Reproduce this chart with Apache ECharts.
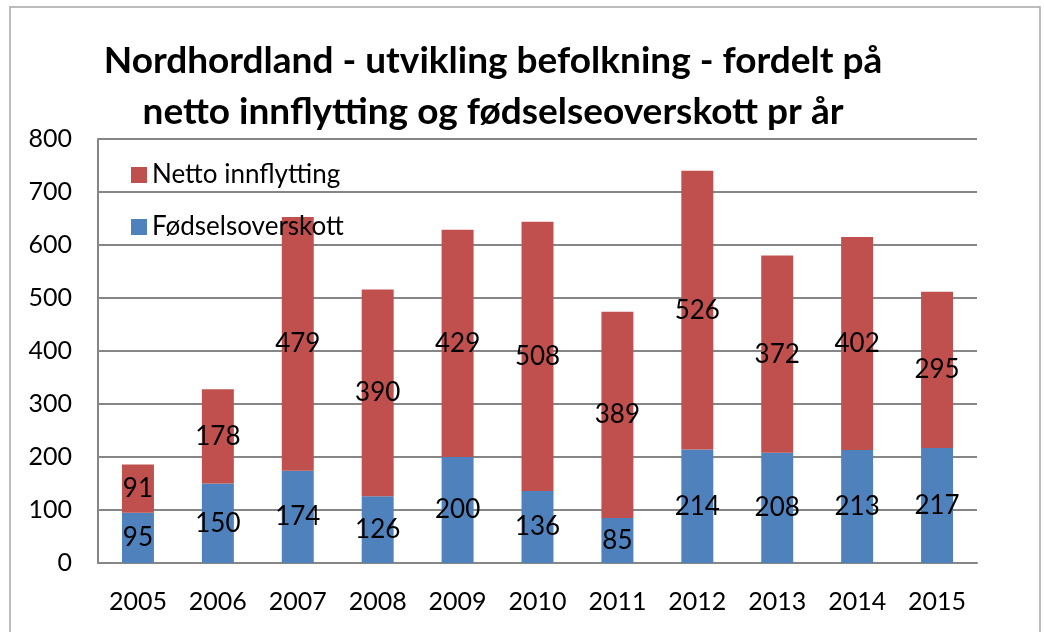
<!DOCTYPE html>
<html lang="nb">
<head>
    <meta charset="UTF-8">
    <title>Nordhordland befolkning</title>
    <script src="https://cdn.jsdelivr.net/npm/echarts@6/dist/echarts.min.js"></script>
    <style>
        *{
            padding:0;
            margin:0;
        }
        html,body{
            height:100%;
            background:#fff;
        }
        #main{
            width:1044px;
            height:632px;
        }
    </style>
</head>
<body>
<div id="main"></div>
<script>
    // data
    var years = ['2005','2006','2007','2008','2009','2010','2011','2012','2013','2014','2015'];
    var fodsel = [95,150,174,126,200,136,85,214,208,213,217];
    var innflytting = [91,178,479,390,429,508,389,526,372,402,295];
    var yTicks = {min:0, max:800, interval:100};

    var font = 'Lato, "Open Sans", sans-serif';
    var myChart = echarts.init(document.getElementById('main'));

    var option = {
        backgroundColor:'#fff',
        textStyle:{fontFamily:font},
        title:{
            text:'Nordhordland - utvikling befolkning - fordelt på\nnetto innflytting og fødselseoverskott pr år',
            left:488,
            textAlign:'center',
            top:31,
            textStyle:{
                fontFamily:font,
                fontSize:37,
                fontWeight:'bold',
                color:'#000',
                lineHeight:51
            }
        },
        graphic:[{
            type:'rect',
            shape:{x:10, y:7, width:1030, height:640},
            style:{fill:'none', stroke:'#a6a6a6', lineWidth:1.5},
            silent:true
        }],
        legend:{
            data:['Netto innflytting','Fødselsoverskott'],
            orient:'vertical',
            left:126,
            top:157,
            itemGap:26,
            itemWidth:16,
            itemHeight:16,
            icon:'rect',
            textStyle:{fontFamily:font, fontSize:26, color:'#000'}
        },
        grid:{
            left:98,
            right:67,
            top:139,
            bottom:69
        },
        xAxis:{
            type:'category',
            data:years,
            axisTick:{show:false},
            axisLine:{lineStyle:{color:'#868686', width:2}},
            axisLabel:{fontFamily:font, fontSize:25, color:'#000', margin:26}
        },
        yAxis:{
            type:'value',
            min:yTicks.min,
            max:yTicks.max,
            interval:yTicks.interval,
            axisLine:{show:true, lineStyle:{color:'#868686', width:2}},
            axisTick:{show:false},
            splitLine:{lineStyle:{color:'#868686', width:2}},
            axisLabel:{fontFamily:font, fontSize:25, color:'#000', margin:26}
        },
        series:[
            {
                name:'Fødselsoverskott',
                type:'bar',
                stack:'tot',
                barWidth:'40%',
                itemStyle:{color:'#4f81bd'},
                label:{show:true, position:'inside', fontFamily:font, fontSize:26, color:'#000'},
                data:fodsel
            },
            {
                name:'Netto innflytting',
                type:'bar',
                stack:'tot',
                itemStyle:{color:'#c0504d'},
                label:{show:true, position:'inside', fontFamily:font, fontSize:26, color:'#000'},
                data:innflytting
            }
        ]
    };
    myChart.setOption(option);
</script>
</body>
</html>
